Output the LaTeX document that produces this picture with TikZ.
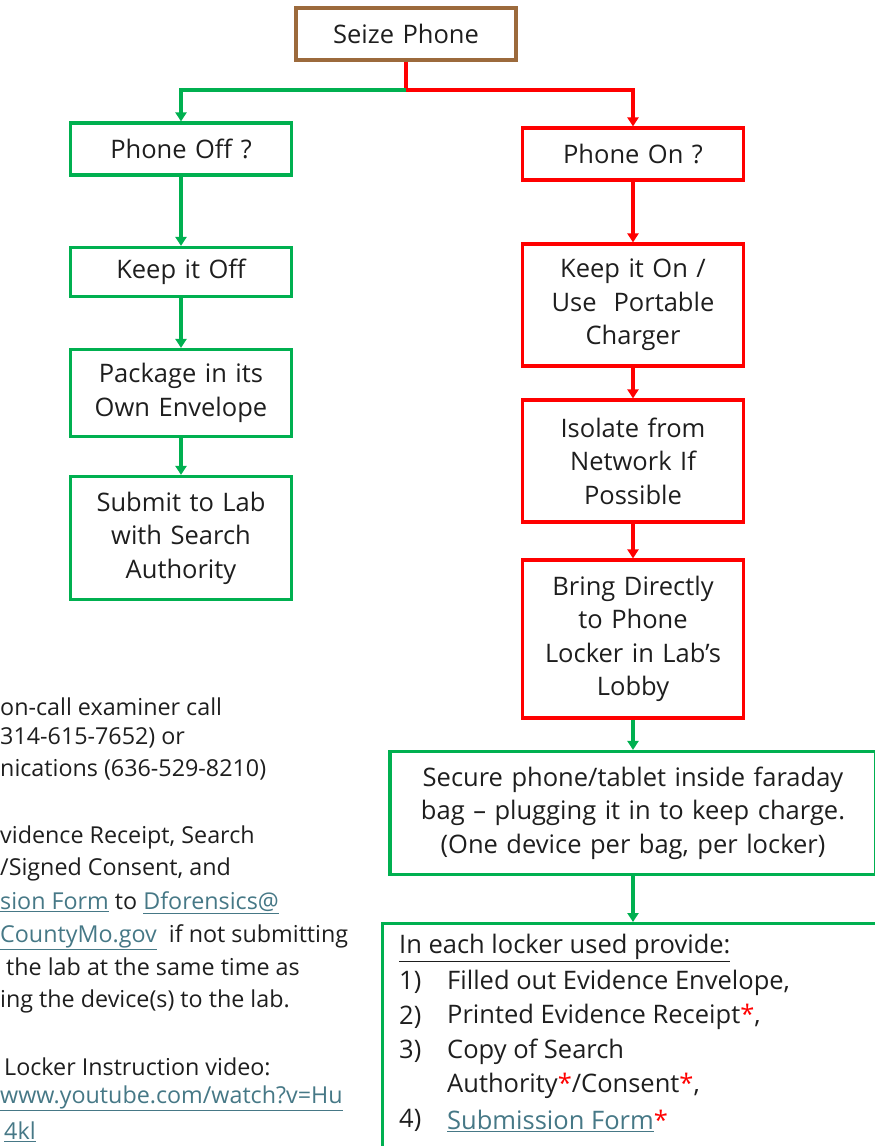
\documentclass[tikz,border=0pt]{standalone}
\usepackage{fontspec}
\setmainfont{Open Sans}
\usepackage{xcolor}
\usetikzlibrary{positioning, arrows.meta}
\definecolor{boxgreen}{HTML}{00B050}
\definecolor{boxred}{HTML}{FF0000}
\definecolor{boxbrown}{HTML}{9C6A3C}
\definecolor{linkblue}{HTML}{467886}
\definecolor{txt}{HTML}{1E1E1E}
\newcommand{\lnk}[1]{\textcolor{linkblue}{\underline{#1}}}
\newcommand{\reqmark}{\textcolor{boxred}{*}}
\tikzset{
  stepbox/.style={draw, line width=3.2pt, minimum height=#1, text width=215pt, align=center, inner sep=3pt, font=\fontsize{25.5}{33.5}\selectfont, text=txt},
  stepbox/.default=52pt,
  greenbox/.style={stepbox=#1, draw=boxgreen},
  greenbox/.default=52pt,
  redbox/.style={stepbox=#1, draw=boxred},
  redbox/.default=52pt,
  flow/.style={line width=3.2pt, -{Triangle[length=9pt, width=11pt]}},
  note/.style={anchor=west, inner sep=0pt, font=\fontsize{23.3}{28}\selectfont, text=txt},
  item/.style={anchor=west, inner sep=0pt, font=\fontsize{25.5}{33.5}\selectfont, text=txt}
}
\begin{document}
\begin{tikzpicture}[x=1pt, y=-1pt]
	\useasboundingbox (0, 0) rectangle (875, 1146);
	\clip (0, 0) rectangle (875, 1146);
	% Boxes:
	\node[stepbox, draw=boxbrown, text width=214pt] (seize) at (406, 34){Seize Phone};
	\node[greenbox] (off) at (181, 149){Phone Off ?};
	\node[greenbox=49pt] (keepoff) at (181, 272){Keep it Off};
	\node[greenbox=87pt] (package) at (181, 393){Package in its\\Own Envelope};
	\node[greenbox=123pt] (submit) at (181, 538){Submit to Lab\\with Search\\Authority};
	\node[redbox] (on) at (633, 154){Phone On ?};
	\node[redbox=122pt] (keepon) at (633, 305){Keep it On /\\Use\ \ Portable\\Charger};
	\node[redbox=122pt] (isolate) at (633, 461){Isolate from\\Network If\\Possible};
	\node[redbox=158pt] (bring) at (633, 639){Bring Directly\\to Phone\\Locker in Lab's\\Lobby};
	\node[greenbox=123pt, text width=480pt] (secure) at (633, 813){Secure phone/tablet inside faraday\\bag -- plugging it in to keep charge.\\(One device per bag, per locker)};
	\node[greenbox=240pt, text width=490pt, align=left, anchor=north west] (locker) at (381, 922){};
	% Locker list:
	\node[item] (lh) at (399, 948){\underline{In each locker used provide:}};
	\foreach \n/\t [count=\i] in {{1)}/{Filled out Evidence Envelope,}, {2)}/{Printed Evidence Receipt\reqmark,}, {3)}/{Copy of Search}, {}/{Authority\reqmark/Consent\reqmark,}, {4)}/{\lnk{Submission Form}\reqmark}}{
		\node[item] (ln\i) at (399, 948+34.5*\i){\n};
		\node[item] (lt\i) at (447, 948+34.5*\i){\t};
	}
	% Connectors:
	\coordinate (split) at (406, 90);
	\draw[flow, boxred] (seize.south) -- (split) -| (on.north);
	\draw[flow, boxgreen] (split) -| (off.north);
	\draw[flow, boxgreen] (off) -- (keepoff);
	\draw[flow, boxgreen] (keepoff) -- (package);
	\draw[flow, boxgreen] (package) -- (submit);
	\draw[flow, boxred] (on) -- (keepon);
	\draw[flow, boxred] (keepon) -- (isolate);
	\draw[flow, boxred] (isolate) -- (bring);
	\draw[flow, boxgreen] (bring) -- (secure);
	\draw[flow, boxgreen] (secure.south) -- (secure.south |- locker.north);
	% Notes on the left:
	\node[note] (n1) at (0, 707){on-call examiner call};
	\node[note] (n2) at (0, 738){314-615-7652) or};
	\node[note] (n3) at (0, 770){nications (636-529-8210)};
	\node[note] (n4) at (0, 837){vidence Receipt, Search};
	\node[note] (n5) at (0, 869){/Signed Consent, and};
	\node[note] (n6) at (0, 903){\lnk{sion Form} to \lnk{Dforensics@}};
	\node[note] (n7) at (0, 937){\lnk{CountyMo.gov}\ \ if not submitting};
	\node[note] (n8) at (6, 967){the lab at the same time as};
	\node[note] (n9) at (0, 1001){ing the device(s) to the lab.};
	\node[note] (n10) at (4, 1067){Locker Instruction video:};
	\node[note] (n11) at (0, 1098){\lnk{www.youtube.com/watch?v=Hu}};
	\node[note] (n12) at (4, 1132){\lnk{4kl}};
\end{tikzpicture}
\end{document}
